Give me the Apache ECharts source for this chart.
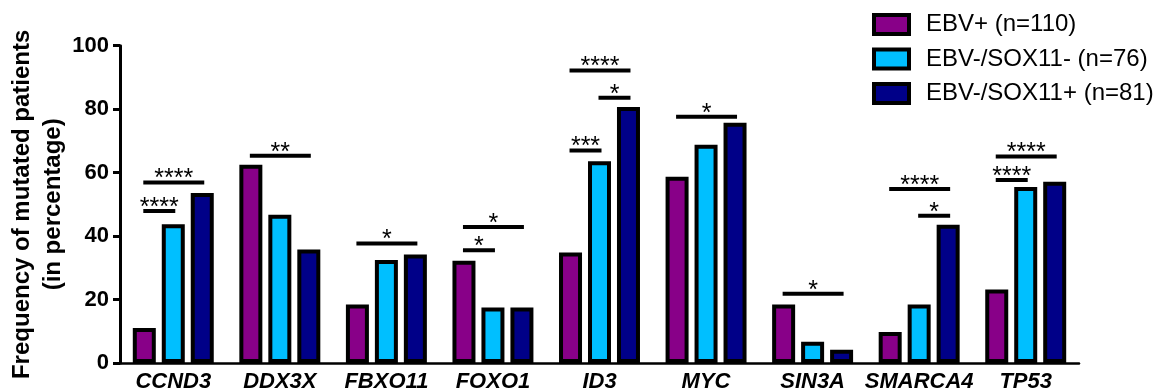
<!DOCTYPE html>
<html>
<head>
<meta charset="utf-8">
<script src="https://cdn.jsdelivr.net/npm/echarts@6/dist/echarts.min.js"></script>
<style>
html,body{margin:0;padding:0;background:#fff;}
#c{width:1161px;height:391px;}
</style>
</head>
<body>
<div id="c"></div>
<script>
const categories = ['CCND3','DDX3X','FBXO11','FOXO1','ID3','MYC','SIN3A','SMARCA4','TP53'];
const seriesNames = ['EBV+ (n=110)','EBV-/SOX11- (n=76)','EBV-/SOX11+ (n=81)'];
const ebvPos = [11.0, 62.5, 18.4, 32.2, 34.8, 58.7, 18.4, 9.8, 23.2];
const ebvNegSox11Neg = [43.7, 46.7, 32.5, 17.5, 63.6, 68.8, 6.7, 18.4, 55.5];
const ebvNegSox11Pos = [53.6, 35.8, 34.2, 17.5, 80.7, 75.7, 4.2, 43.6, 57.1];
const yTicks = [0, 20, 40, 60, 80, 100];

// significance brackets: category index, y level, from bar, to bar, label
const bracketCat   = [0, 0, 1, 2, 3, 3, 4, 4, 4, 5, 6, 7, 7, 8, 8];
const bracketY     = [47.9, 56.9, 65.3, 37.7, 35.5, 42.9, 67.0, 83.6, 92.2, 77.6, 21.8, 54.8, 46.4, 65.1, 57.7];
const bracketFrom  = [0, 0, 0, 0, 0, 0, 0, 1, 0, 0, 0, 0, 1, 0, 0];
const bracketTo    = [1, 2, 2, 2, 1, 2, 1, 2, 2, 2, 2, 2, 2, 2, 1];
const bracketLabel = ['****','****','**','*','*','*','***','*','****','*','*','****','*','****','****'];

const colors = ['#880088', '#00BFFF', '#000088'];
const FONT = 'Liberation Sans, Arial, sans-serif';
const BAR_W = 23;
const BAR_GAP = 0.26;
const STEP = BAR_W * (1 + BAR_GAP);

const chart = echarts.init(document.getElementById('c'), null, {renderer: 'canvas'});

const barSeries = [ebvPos, ebvNegSox11Neg, ebvNegSox11Pos].map((d, i) => ({
  name: seriesNames[i],
  type: 'bar',
  data: d,
  barWidth: BAR_W,
  barGap: (BAR_GAP * 100) + '%',
  itemStyle: {color: colors[i], borderColor: '#000', borderWidth: 4},
  emphasis: {disabled: true},
  animation: false
}));

const bracketData = bracketCat.map((c, i) => [c, bracketY[i], bracketFrom[i], bracketTo[i]]);

const bracketSeries = {
  type: 'custom',
  coordinateSystem: 'cartesian2d',
  data: bracketData,
  clip: false,
  z: 10,
  silent: true,
  animation: false,
  renderItem: function (params, api) {
    const p = api.coord([api.value(0), api.value(1)]);
    const from = api.value(2), to = api.value(3);
    const x1 = p[0] + (from - 1) * STEP - 1;
    const x2 = p[0] + (to - 1) * STEP + 2;
    return {
      type: 'group',
      children: [
        {type: 'line', shape: {x1: x1, y1: p[1], x2: x2, y2: p[1]},
         style: {stroke: '#000', lineWidth: 4, lineCap: 'butt'}},
        {type: 'text', style: {x: (x1 + x2) / 2, y: p[1] - 3, text: bracketLabel[params.dataIndex],
          font: 'normal 25px ' + FONT, fill: '#000', textAlign: 'center', textVerticalAlign: 'middle'}}
      ]
    };
  }
};

chart.setOption({
  backgroundColor: '#fff',
  animation: false,
  textStyle: {fontFamily: FONT},
  grid: {left: 120, right: 82, top: 45.7, bottom: 28, containLabel: false, outerBoundsMode: 'none'},
  legend: {
    orient: 'vertical',
    left: 867,
    top: 7.5,
    itemWidth: 35,
    itemHeight: 19,
    itemGap: 10.5,
    icon: 'rect',
    data: seriesNames,
    itemStyle: {borderColor: '#000', borderWidth: 4},
    textStyle: {fontSize: 24, color: '#000', fontFamily: FONT, lineHeight: 24, padding: [0, 0, 0, 12]},
    selectedMode: false
  },
  xAxis: {
    type: 'category',
    data: categories,
    axisLine: {lineStyle: {color: '#000', width: 2.5}},
    axisTick: {alignWithLabel: true, length: 6, lineStyle: {color: '#000', width: 3}},
    axisLabel: {fontSize: 22, fontWeight: 'bold', fontStyle: 'italic', color: '#000', margin: 8, fontFamily: FONT, interval: 0}
  },
  yAxis: {
    type: 'value',
    min: yTicks[0],
    max: yTicks[yTicks.length - 1],
    interval: yTicks[1] - yTicks[0],
    name: 'Frequency of mutated patients\n(in percentage)',
    nameLocation: 'middle',
    nameGap: 51,
    nameMoveOverlap: false,
    nameRotate: 90,
    nameTextStyle: {fontSize: 24, fontWeight: 'bold', color: '#000', lineHeight: 31, fontFamily: FONT},
    axisLine: {show: true, lineStyle: {color: '#000', width: 3}},
    axisTick: {show: true, length: 7, lineStyle: {color: '#000', width: 3}},
    axisLabel: {fontSize: 22, fontWeight: 'bold', color: '#000', margin: 11, fontFamily: FONT},
    splitLine: {show: false}
  },
  series: barSeries.concat([bracketSeries])
});
</script>
</body>
</html>
